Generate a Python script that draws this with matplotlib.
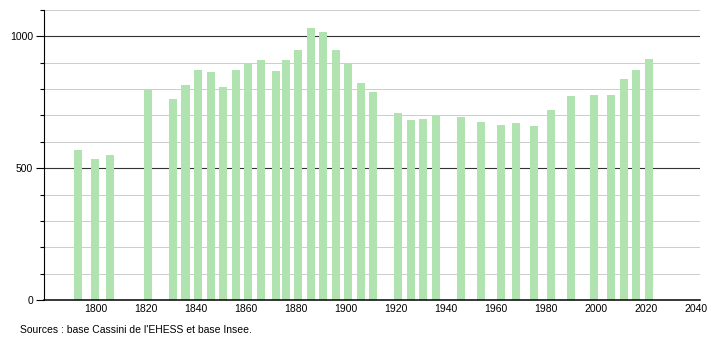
import matplotlib
matplotlib.use("Agg")
import matplotlib.pyplot as plt
from matplotlib.ticker import MultipleLocator

# Census years and population
years = [1793, 1800, 1806, 1821, 1831, 1836, 1841, 1846, 1851, 1856,
         1861, 1866, 1872, 1876, 1881, 1886, 1891, 1896, 1901, 1906,
         1911, 1921, 1926, 1931, 1936, 1946, 1954, 1962, 1968, 1975,
         1982, 1990, 1999, 2006, 2011, 2016, 2021]
population = [570, 535, 551, 796, 763, 817, 871, 864, 807, 874,
              900, 909, 868, 909, 950, 1030, 1016, 950, 894, 824,
              788, 710, 681, 688, 700, 693, 677, 665, 672, 659,
              719, 772, 779, 779, 839, 871, 915]

x_ticks = [1800, 1820, 1840, 1860, 1880, 1900, 1920, 1940, 1960, 1980, 2000, 2020, 2040]
y_ticks = [0, 500, 1000]

plt.rcParams["font.family"] = ["Liberation Sans", "DejaVu Sans"]

fig = plt.figure(figsize=(7.1, 3.4), dpi=100)
ax = fig.add_axes([0.062, 0.1176, 0.924, 0.853])

# Grid: light lines every 100, dark lines at 500 and 1000
for v in range(100, 1101, 100):
    if v % 500 == 0:
        ax.axhline(v, color="#333333", linewidth=0.8, zorder=1)
    else:
        ax.axhline(v, color="#cccccc", linewidth=0.7, zorder=1)

ax.bar(years, population, width=3.2, color="#b1e3b1", zorder=2)

ax.set_xlim(1779.5, 2041.5)
ax.set_ylim(0, 1100)
ax.set_xticks(x_ticks)
ax.set_yticks(y_ticks)
ax.yaxis.set_minor_locator(MultipleLocator(100))
ax.tick_params(axis="y", which="major", length=6, width=0.8, labelsize=7.5, pad=2)
ax.tick_params(axis="y", which="minor", length=3, width=0.8)
ax.tick_params(axis="x", length=0, labelsize=7.5, pad=3)

for side in ["top", "right"]:
    ax.spines[side].set_visible(False)
ax.spines["left"].set_linewidth(0.8)
ax.spines["bottom"].set_linewidth(1.1)
ax.spines["bottom"].set_color("black")

fig.text(0.028, 0.029, "Sources : base Cassini de l'EHESS et base Insee.",
         fontsize=7.5, va="center")

fig.savefig("out.png", dpi=100)
